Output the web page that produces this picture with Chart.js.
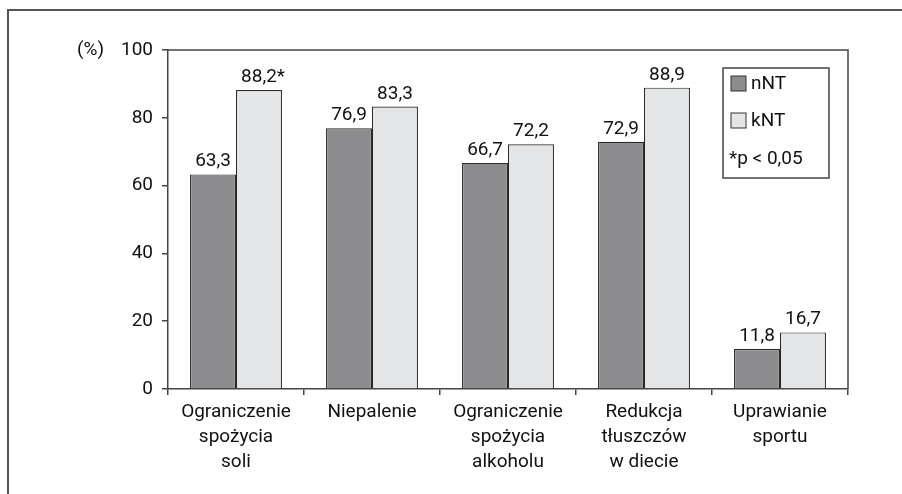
<!DOCTYPE html>
<html>
<head>
<meta charset="utf-8">
<script src="https://cdn.jsdelivr.net/npm/chart.js@4/dist/chart.umd.min.js"></script>
<style>
  html, body { margin: 0; padding: 0; background: #fff; }
  #wrap { position: relative; width: 902px; height: 494px; }
  #frame { position: absolute; left: 7px; top: 9px; width: 910px; height: 500px; border: 2px solid #555; box-sizing: border-box; }
</style>
</head>
<body>
<div id="wrap">
  <div id="frame"></div>
  <canvas id="chart" width="902" height="494"></canvas>
</div>
<script>
const categories = [
    ["Ograniczenie", "spożycia", "soli"],
    "Niepalenie",
    ["Ograniczenie", "spożycia", "alkoholu"],
    ["Redukcja", "tłuszczów", "w diecie"],
    ["Uprawianie", "sportu"]
];
const nNT = [63.3, 76.9, 66.7, 72.9, 11.8];
const kNT = [88.2, 83.3, 72.2, 88.9, 16.7];
const kNTStar = [true, false, false, false, false];
const yTicks = [0, 20, 40, 60, 80, 100];

const FONT = "Roboto, 'Liberation Sans Narrow', sans-serif";
const TEXT = "#111";

function fmt(v) {
    return v.toFixed(1).replace(".", ",");
}

// ramka obszaru wykresu, etykiety wartości, "(%)" i legenda
const extras = {
    id: "extras",
    afterDatasetsDraw(chart) {
        const ctx = chart.ctx;
        const a = chart.chartArea;
        const y = chart.scales.y;
        ctx.save();

        ctx.strokeStyle = "#444";
        ctx.lineWidth = 1.5;
        ctx.beginPath();
        ctx.moveTo(a.left, a.top);
        ctx.lineTo(a.right, a.top);
        ctx.lineTo(a.right, a.bottom);
        ctx.stroke();

        ctx.font = "19px " + FONT;
        ctx.fillStyle = TEXT;
        ctx.textBaseline = "alphabetic";
        chart.data.datasets.forEach((ds, di) => {
            const meta = chart.getDatasetMeta(di);
            meta.data.forEach((bar, i) => {
                const txt = fmt(ds.data[i]);
                const w = ctx.measureText(txt).width;
                ctx.textAlign = "left";
                ctx.fillText(txt, bar.x - w / 2, bar.y - 8);
                if (ds.stars && ds.stars[i]) {
                    ctx.fillText("*", bar.x + w / 2, bar.y - 8);
                }
            });
        });

        ctx.textAlign = "left";
        ctx.textBaseline = "middle";
        ctx.fillText("(%)", a.left - 91, y.getPixelForValue(100));

        // legenda
        const bx = a.right - 125, by = a.top + 18, bw = 106, bh = 110;
        ctx.strokeStyle = "#444";
        ctx.lineWidth = 1.5;
        ctx.strokeRect(bx, by, bw, bh);
        chart.data.datasets.forEach((ds, di) => {
            const cy = by + 16 + di * 37;
            ctx.fillStyle = ds.backgroundColor;
            ctx.fillRect(bx + 8, cy - 8, 15, 15);
            ctx.strokeStyle = "#333";
            ctx.lineWidth = 1;
            ctx.strokeRect(bx + 8, cy - 8, 15, 15);
            ctx.fillStyle = TEXT;
            ctx.fillText(ds.label, bx + 28, cy);
        });
        ctx.fillText("*p < 0,05", bx + 6, by + 91);

        ctx.restore();
    }
};

new Chart(document.getElementById("chart").getContext("2d"), {
    type: "bar",
    data: {
        labels: categories,
        datasets: [
            {
                label: "nNT",
                data: nNT,
                backgroundColor: "#8c8c8e",
                borderColor: "#2a2a2a",
                borderWidth: 1.2,
                barPercentage: 1.0,
                categoryPercentage: 0.676
            },
            {
                label: "kNT",
                data: kNT,
                stars: kNTStar,
                backgroundColor: "#e4e5e7",
                borderColor: "#2a2a2a",
                borderWidth: 1.2,
                barPercentage: 1.0,
                categoryPercentage: 0.676
            }
        ]
    },
    options: {
        responsive: false,
        animation: false,
        layout: { padding: { left: 0, top: 50, right: 54, bottom: 0 } },
        plugins: {
            legend: { display: false },
            tooltip: { enabled: false }
        },
        scales: {
            x: {
                offset: true,
                grid: { offset: true, drawOnChartArea: false, drawTicks: true, tickLength: 6, color: "#444", lineWidth: 1.5 },
                border: { color: "#444", width: 1.5 },
                ticks: {
                    color: TEXT,
                    font: { family: FONT, size: 19, lineHeight: 1.3 },
                    padding: 5,
                    maxRotation: 0,
                    autoSkip: false
                },
                afterFit(scale) { scale.height = 105; }
            },
            y: {
                min: 0,
                max: 100,
                afterBuildTicks(scale) { scale.ticks = yTicks.map(v => ({ value: v })); },
                grid: { drawOnChartArea: false, drawTicks: true, tickLength: 6, color: "#444", lineWidth: 1.5 },
                border: { color: "#444", width: 1.5 },
                ticks: {
                    color: TEXT,
                    font: { family: FONT, size: 19 },
                    padding: 9
                },
                afterFit(scale) { scale.width = 168; }
            }
        }
    },
    plugins: [extras]
});
</script>
</body>
</html>
